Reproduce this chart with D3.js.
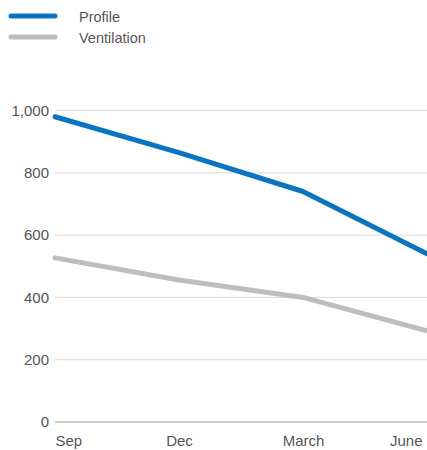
<!DOCTYPE html>
<html>
<head>
<meta charset="utf-8">
<script src="https://cdn.jsdelivr.net/npm/d3@7"></script>
<style>
  html, body { margin: 0; padding: 0; background: #fff; overflow: hidden; }
  svg { display: block; font-family: "Liberation Sans", Arial, Helvetica, sans-serif; }
</style>
</head>
<body>
<svg id="chart" width="427" height="450"></svg>
<script>
// Months on the horizontal axis
const months = ["Sep", "Dec", "March", "June"];
// Series values
const profile = [980, 865, 740, 540];
const ventilation = [527, 456, 400, 293];
// Vertical axis ticks
const yTicks = [0, 200, 400, 600, 800, 1000];

const seriesNames = ["Profile", "Ventilation"];
const seriesColors = ["#0a74c2", "#bdbdc1"];
const seriesData = [profile, ventilation];

const svg = d3.select("#chart");
const W = 427, H = 450;

const x = d3.scalePoint().domain(months).range([55, 427]);
const y = d3.scaleLinear().domain([0, 1000]).range([422, 110.5]);

// Gridlines and y labels
const yAxis = d3.axisLeft(y)
  .tickValues(yTicks)
  .tickFormat(d3.format(","))
  .tickSize(0)
  .tickPadding(6);

const gy = svg.append("g").attr("transform", "translate(55,0)").call(yAxis);
gy.select(".domain").remove();
gy.selectAll("text")
  .attr("fill", "#555")
  .attr("font-size", 15)
  .attr("font-family", "Liberation Sans, Arial, sans-serif");

svg.append("g").selectAll("line")
  .data(yTicks)
  .join("line")
  .attr("x1", 55).attr("x2", W)
  .attr("y1", d => y(d)).attr("y2", d => y(d))
  .attr("stroke", d => d === 0 ? "#9a9a9a" : "#d9d9d9")
  .attr("stroke-width", 1);

// X axis labels, sitting on the bottom edge
const xAxis = d3.axisBottom(x).tickSize(0).tickPadding(0);
const gx = svg.append("g").attr("transform", "translate(0,446)").call(xAxis);
gx.select(".domain").remove();
gx.selectAll("text")
  .attr("fill", "#555")
  .attr("font-size", 15)
  .attr("font-family", "Liberation Sans, Arial, sans-serif")
  .attr("y", 0)
  .attr("dy", 0)
  .attr("text-anchor", (d, i) => i === 0 ? "start" : (i === months.length - 1 ? "end" : "middle"))
  .attr("dx", (d, i) => i === months.length - 1 ? -5 : 0);

// Series lines
const line = d3.line()
  .x((d, i) => x(months[i]))
  .y(d => y(d));

svg.append("g").selectAll("path")
  .data(seriesData)
  .join("path")
  .attr("d", d => line(d))
  .attr("fill", "none")
  .attr("stroke", (d, i) => seriesColors[i])
  .attr("stroke-width", 5)
  .attr("stroke-linejoin", "round")
  .attr("stroke-linecap", "round");

// Legend
const legend = svg.append("g").selectAll("g")
  .data(seriesNames)
  .join("g")
  .attr("transform", (d, i) => `translate(0,${16 + i * 21})`);

legend.append("line")
  .attr("x1", 11).attr("x2", 55)
  .attr("y1", 0).attr("y2", 0)
  .attr("stroke", (d, i) => seriesColors[i])
  .attr("stroke-width", 5)
  .attr("stroke-linecap", "round");

legend.append("text")
  .attr("x", 79)
  .attr("y", 5.5)
  .attr("fill", "#555")
  .attr("font-size", 14.5)
  .text(d => d);
</script>
</body>
</html>
